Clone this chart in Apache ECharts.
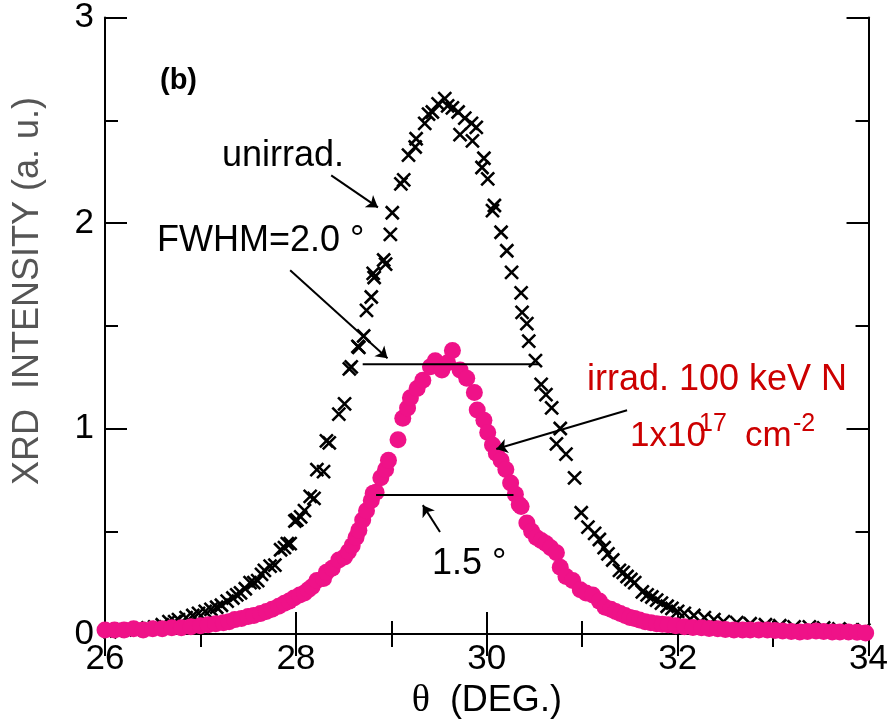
<!DOCTYPE html>
<html>
<head>
<meta charset="utf-8">
<script src="https://cdn.jsdelivr.net/npm/echarts@6/dist/echarts.min.js"></script>
<style>
  html, body { margin: 0; padding: 0; background: #fff; }
  #chart { width: 891px; height: 725px; }
</style>
</head>
<body>
<div id="chart"></div>
<script>
// Unirradiated sample: diffraction angle (deg) and intensity (a. u.)
const unirradTheta = [
  26.05, 26.12, 26.21, 26.30, 26.36, 26.45, 26.52, 26.60, 26.67, 26.73,
  26.77, 26.85, 26.92, 26.98, 27.05, 27.11, 27.17, 27.22, 27.28, 27.34,
  27.38, 27.42, 27.47, 27.52, 27.56, 27.60, 27.64, 27.67, 27.73, 27.78,
  27.84, 27.88, 27.91, 27.94, 27.99, 28.01, 28.05, 28.09, 28.15, 28.19,
  28.22, 28.29, 28.32, 28.35, 28.45, 28.51, 28.56, 28.58, 28.65, 28.66,
  28.71, 28.74, 28.79, 28.81, 28.82, 28.92, 28.94, 28.99, 29.01, 29.10,
  29.13, 29.18, 29.25, 29.26, 29.35, 29.39, 29.43, 29.49, 29.56, 29.59,
  29.64, 29.70, 29.72, 29.77, 29.84, 29.85, 29.89, 29.95, 29.97, 30.01,
  30.06, 30.08, 30.15, 30.21, 30.26, 30.36, 30.37, 30.42, 30.44, 30.51,
  30.57, 30.62, 30.68, 30.73, 30.77, 30.83, 30.92, 30.99, 31.06, 31.13,
  31.18, 31.23, 31.27, 31.32, 31.39, 31.43, 31.47, 31.51, 31.55, 31.63,
  31.68, 31.73, 31.78, 31.83, 31.89, 31.94, 32.00, 32.07, 32.17, 32.28,
  32.38, 32.48, 32.62, 32.76, 32.92, 33.07, 33.22, 33.38, 33.53, 33.69,
  33.82, 33.95
];
const unirradIntensity = [
  0.010, 0.015, 0.020, 0.020, 0.025, 0.030, 0.035, 0.045, 0.060, 0.060,
  0.070, 0.080, 0.090, 0.100, 0.110, 0.120, 0.130, 0.140, 0.160, 0.175,
  0.190, 0.200, 0.220, 0.250, 0.250, 0.260, 0.290, 0.310, 0.330, 0.335,
  0.410, 0.420, 0.440, 0.440, 0.550, 0.555, 0.570, 0.600, 0.670, 0.660,
  0.800, 0.790, 0.940, 0.930, 1.070, 1.120, 1.290, 1.300, 1.400, 1.395,
  1.450, 1.575, 1.640, 1.755, 1.735, 1.820, 1.800, 1.945, 2.050, 2.190,
  2.210, 2.330, 2.370, 2.410, 2.485, 2.530, 2.540, 2.580, 2.605, 2.570,
  2.560, 2.540, 2.430, 2.510, 2.485, 2.400, 2.465, 2.270, 2.315, 2.215,
  2.060, 2.085, 1.955, 1.865, 1.760, 1.660, 1.565, 1.510, 1.425, 1.330,
  1.215, 1.165, 1.100, 0.925, 1.000, 0.875, 0.760, 0.590, 0.520, 0.490,
  0.460, 0.420, 0.390, 0.360, 0.310, 0.300, 0.280, 0.265, 0.250, 0.205,
  0.190, 0.180, 0.165, 0.150, 0.135, 0.125, 0.110, 0.100, 0.090, 0.080,
  0.070, 0.060, 0.055, 0.050, 0.045, 0.040, 0.035, 0.035, 0.030, 0.025,
  0.020, 0.020
];

// Sample irradiated with 100 keV N, 1x10^17 cm^-2
const irradTheta = [
  26.00, 26.10, 26.20, 26.30, 26.40, 26.50, 26.60, 26.70, 26.80, 26.90,
  27.00, 27.08, 27.16, 27.24, 27.30, 27.36, 27.43, 27.50, 27.56, 27.63,
  27.69, 27.75, 27.82, 27.88, 27.93, 27.98, 28.04, 28.09, 28.13, 28.17,
  28.22, 28.29, 28.32, 28.38, 28.45, 28.51, 28.55, 28.59, 28.63, 28.66,
  28.70, 28.74, 28.79, 28.81, 28.84, 28.89, 28.94, 28.97, 29.07, 29.12,
  29.17, 29.20, 29.27, 29.33, 29.41, 29.46, 29.53, 29.59, 29.64, 29.72,
  29.79, 29.87, 29.90, 29.97, 30.01, 30.06, 30.10, 30.15, 30.20, 30.25,
  30.30, 30.34, 30.36, 30.42, 30.47, 30.52, 30.57, 30.62, 30.67, 30.73,
  30.77, 30.83, 30.90, 30.98, 31.04, 31.11, 31.18, 31.24, 31.30, 31.35,
  31.40, 31.45, 31.50, 31.55, 31.60, 31.66, 31.72, 31.78, 31.84, 31.90,
  31.98, 32.07, 32.16, 32.25, 32.33, 32.42, 32.50, 32.59, 32.68, 32.76,
  32.85, 32.94, 33.02, 33.10, 33.19, 33.28, 33.36, 33.45, 33.53, 33.62,
  33.70, 33.79, 33.88, 33.97
];
const irradIntensity = [
  0.020, 0.020, 0.020, 0.025, 0.020, 0.025, 0.025, 0.030, 0.030, 0.035,
  0.040, 0.045, 0.050, 0.055, 0.060, 0.070, 0.075, 0.085, 0.090, 0.100,
  0.110, 0.120, 0.135, 0.150, 0.160, 0.175, 0.190, 0.200, 0.215, 0.230,
  0.260, 0.270, 0.300, 0.320, 0.360, 0.375, 0.400, 0.430, 0.470, 0.505,
  0.555, 0.600, 0.650, 0.685, 0.690, 0.760, 0.800, 0.845, 0.945, 1.050,
  1.100, 1.150, 1.195, 1.235, 1.300, 1.330, 1.285, 1.320, 1.380, 1.285,
  1.245, 1.175, 1.090, 1.040, 0.980, 0.920, 0.880, 0.845, 0.800, 0.735,
  0.680, 0.630, 0.620, 0.540, 0.500, 0.470, 0.455, 0.440, 0.420, 0.395,
  0.325, 0.280, 0.260, 0.215, 0.200, 0.190, 0.160, 0.130, 0.120, 0.110,
  0.100, 0.090, 0.080, 0.075, 0.068, 0.060, 0.055, 0.050, 0.047, 0.045,
  0.040, 0.035, 0.032, 0.030, 0.027, 0.025, 0.022, 0.020, 0.020, 0.020,
  0.020, 0.020, 0.017, 0.015, 0.012, 0.010, 0.012, 0.015, 0.012, 0.010,
  0.010, 0.010, 0.008, 0.005
];

// Half-maximum width bars: [theta start, theta end, intensity]
const fwhmUnirrad = [28.70, 30.54, 1.313];
const fwhmIrrad = [28.84, 30.28, 0.676];

// Pointer arrows: [from theta, from intensity, to theta, to intensity]
const arrowUnirrad = [28.37, 2.232, 28.86, 2.076];
const arrowFwhm = [27.94, 1.770, 28.96, 1.342];
const arrowIrradWidth = [29.51, 0.496, 29.33, 0.627];
const arrowIrrad = [31.47, 1.089, 30.10, 0.900];

const xTicks = [26, 28, 30, 32, 34];
const yTicks = [0, 1, 2, 3];

const FONT = '"Liberation Sans", Arial, sans-serif';
const PINK = '#EF1288';
const RED = '#CC0000';

const zip = (a, b) => a.map((v, i) => [v, b[i]]);
const bar = (b) => [[b[0], b[2]], [b[1], b[2]]];
const arrow = (a) => ({ coords: [[a[0], a[1]], [a[2], a[3]]] });

const chart = echarts.init(document.getElementById('chart'), null, { renderer: 'canvas' });

const tickCommon = {
  axisLine: { show: true, lineStyle: { color: '#000', width: 2 } },
  axisTick: { show: true, inside: true, length: 22, lineStyle: { color: '#000', width: 2 } },
  minorTick: { show: true, splitNumber: 2, length: 13, lineStyle: { color: '#000', width: 2 } },
  splitLine: { show: false }
};

chart.setOption({
  animation: false,
  backgroundColor: '#fff',
  grid: { left: 105, right: 11, top: 17, bottom: 91, containLabel: false },
  xAxis: [
    Object.assign({
      type: 'value', min: xTicks[0], max: xTicks[xTicks.length - 1], interval: 2,
      position: 'bottom',
      name: '{t|θ}  (DEG.)', nameLocation: 'middle', nameGap: 46,
      nameTextStyle: {
        fontFamily: FONT, fontSize: 36, color: '#000',
        rich: { t: { fontFamily: '"Liberation Serif", "DejaVu Serif", serif', fontSize: 38, color: '#000' } }
      },
      axisLabel: { show: true, margin: 8, fontFamily: FONT, fontSize: 35, color: '#000' }
    }, tickCommon),
    Object.assign({
      type: 'value', min: xTicks[0], max: xTicks[xTicks.length - 1], interval: 2,
      position: 'top', axisLabel: { show: false }
    }, tickCommon)
  ],
  yAxis: [
    Object.assign({
      type: 'value', min: yTicks[0], max: yTicks[yTicks.length - 1], interval: 1,
      position: 'left',
      axisLabel: { show: true, margin: 11, fontFamily: FONT, fontSize: 35, color: '#000' }
    }, tickCommon),
    Object.assign({
      type: 'value', min: yTicks[0], max: yTicks[yTicks.length - 1], interval: 1,
      position: 'right', axisLabel: { show: false }
    }, tickCommon)
  ],
  series: [
    {
      name: 'unirrad.',
      type: 'scatter',
      data: zip(unirradTheta, unirradIntensity),
      symbol: 'path://M0,0L10,10M10,0L0,10',
      symbolSize: 13,
      clip: false,
      itemStyle: { color: 'rgba(0,0,0,0)', borderColor: '#000', borderWidth: 2.6, opacity: 1 },
      z: 2
    },
    {
      name: 'irrad.',
      type: 'scatter',
      data: zip(irradTheta, irradIntensity),
      symbol: 'circle',
      symbolSize: 17,
      clip: false,
      itemStyle: { color: PINK, opacity: 1 },
      z: 3
    },
    {
      type: 'line', data: bar(fwhmUnirrad), showSymbol: false, symbol: 'none',
      lineStyle: { color: '#000', width: 2 }, z: 4
    },
    {
      type: 'line', data: bar(fwhmIrrad), showSymbol: false, symbol: 'none',
      lineStyle: { color: '#000', width: 2 }, z: 4
    },
    {
      type: 'lines',
      coordinateSystem: 'cartesian2d',
      symbol: ['none', 'arrow'],
      symbolSize: [0, 11],
      lineStyle: { color: '#000', width: 2, opacity: 1 },
      data: [arrow(arrowUnirrad), arrow(arrowFwhm), arrow(arrowIrradWidth), arrow(arrowIrrad)],
      z: 5
    }
  ],
  graphic: [
    {
      type: 'text', x: 28, y: 291, rotation: Math.PI / 2,
      style: { text: 'XRD  INTENSITY (a. u.)', font: '36px ' + FONT, fill: '#555', align: 'center', verticalAlign: 'middle' }
    },
    { type: 'text', left: 160, top: 66, style: { text: '(b)', font: 'bold 29px ' + FONT, fill: '#000' } },
    { type: 'text', left: 222, top: 138, style: { text: 'unirrad.', font: '36px ' + FONT, fill: '#000' } },
    { type: 'text', left: 157, top: 223, style: { text: 'FWHM=2.0 °', font: '36px ' + FONT, fill: '#000' } },
    { type: 'text', left: 432, top: 546, style: { text: '1.5 °', font: '36px ' + FONT, fill: '#000' } },
    { type: 'text', left: 587, top: 362, style: { text: 'irrad. 100 keV N', font: '36px ' + FONT, fill: RED } },
    { type: 'text', left: 630, top: 419, style: { text: '1x10', font: '35px ' + FONT, fill: RED } },
    { type: 'text', left: 699, top: 412, style: { text: '17', font: '25px ' + FONT, fill: RED } },
    { type: 'text', left: 745, top: 419, style: { text: 'cm', font: '35px ' + FONT, fill: RED } },
    { type: 'text', left: 793, top: 412, style: { text: '-2', font: '25px ' + FONT, fill: RED } }
  ]
});
</script>
</body>
</html>
